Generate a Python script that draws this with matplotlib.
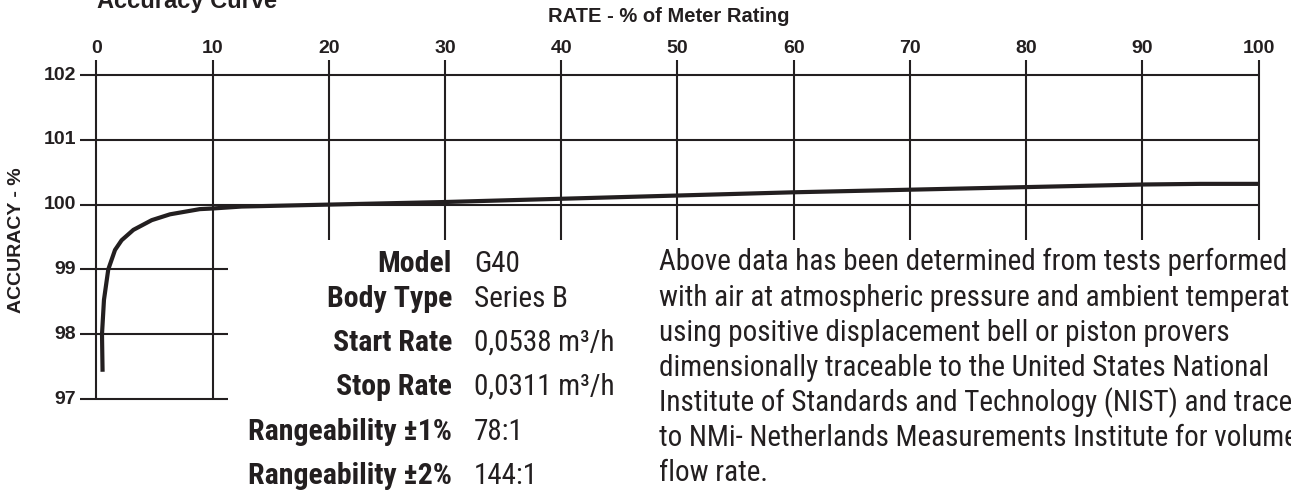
"""
Courbe de precision d'un compteur G40 (Series B)
"""
import matplotlib
matplotlib.use("Agg")
import matplotlib.pyplot as plt
from matplotlib import font_manager

# Donnees
rate = [0.54, 0.49, 0.66, 1.03, 1.61, 2.18, 3.19, 4.77, 6.34, 8.9, 10, 12.5,
        20, 30, 40, 50, 60, 70, 80, 90, 95, 100]
accuracy = [97.42, 98.0, 98.53, 99.0, 99.3, 99.45, 99.61, 99.76, 99.85, 99.93, 99.94, 99.97,
            100.0, 100.04, 100.09, 100.14, 100.19, 100.23, 100.27, 100.31, 100.32, 100.32]

x_ticks = [0, 10, 20, 30, 40, 50, 60, 70, 80, 90, 100]
y_ticks = [97, 98, 99, 100, 101, 102]

spec_labels = ["Model", "Body Type", "Start Rate", "Stop Rate",
               "Rangeability \u00b11%", "Rangeability \u00b12%"]
spec_values = ["G40", "Series B", "0,0538 m\u00b3/h", "0,0311 m\u00b3/h", "78:1", "144:1"]

note_lines = [
    "Above data has been determined from tests performed",
    "with air at atmospheric pressure and ambient temperature",
    "using positive displacement bell or piston provers",
    "dimensionally traceable to the United States National",
    "Institute of Standards and Technology (NIST) and traceable",
    "to NMi- Netherlands Measurements Institute for volumetric",
    "flow rate.",
]

# Polices
names = {f.name for f in font_manager.fontManager.ttflist}
narrow = next((n for n in ["Liberation Sans Narrow", "Roboto Condensed",
                           "Open Sans Condensed", "Arial Narrow"] if n in names), "Roboto")
wide = "Liberation Sans" if "Liberation Sans" in names else "DejaVu Sans"

INK = "#231f20"
W, H = 1291, 494

fig = plt.figure(figsize=(W / 100, H / 100), dpi=100)
# axe cale sur les pixels de la reference : 0 -> 96 px, 100 -> 1259 px ; 102 -> 75 px, 97 -> 399 px
ax = fig.add_axes([96.3 / W, (H - 399) / H, 1162.3 / W, 324 / H])
ax.set_xlim(0, 100)
ax.set_ylim(97, 102)
ax.axis("off")

lw = 1.5
y_top = 102.23   # haut des traits verticaux
x_left = -1.4    # debut des traits horizontaux
for y in y_ticks:
    x_end = 100 if y >= 100 else 11.3
    ax.hlines(y, x_left, x_end, color=INK, lw=lw, clip_on=False)
    ax.text(-1.75, y, str(y), ha="right", va="center", fontsize=14,
            fontweight="bold", family=wide, color=INK)
for x in x_ticks:
    y_bot = 97 if x <= 10 else 99.45
    ax.vlines(x, y_bot, y_top, color=INK, lw=lw, clip_on=False)
    ax.text(x, 102.34, str(x), ha="center", va="baseline", fontsize=14,
            fontweight="bold", family=wide, color=INK)

ax.plot(rate, accuracy, color=INK, lw=3.0, solid_capstyle="butt",
        solid_joinstyle="round", clip_on=False)

# Titres
fig.text(97 / W, 1 - 8 / H, "Accuracy Curve", ha="left", va="baseline",
         fontsize=17, fontweight="bold", family=wide, color=INK)
fig.text(669 / W, 1 - 17 / H, "RATE - % of Meter Rating", ha="center", va="center",
         fontsize=14.5, fontweight="bold", family=wide, color=INK)
fig.text(17 / W, 1 - 240 / H, "ACCURACY - %", ha="center", va="center", rotation=90,
         fontsize=14, fontweight="bold", family=wide, color=INK)

# Caracteristiques
spec_base = [272.3, 306.7, 351, 395, 440, 484]
for lab, val, yb in zip(spec_labels, spec_values, spec_base):
    fig.text(452 / W, 1 - yb / H, lab, ha="right", va="baseline", fontsize=21.5,
             fontweight="bold", family=narrow, color=INK)
    fig.text(474 / W, 1 - yb / H, val, ha="left", va="baseline", fontsize=21,
             family=narrow, color=INK)

# Note
for i, line in enumerate(note_lines):
    yb = 270.5 + i * 35.1
    fig.text(659 / W, 1 - yb / H, line, ha="left", va="baseline", fontsize=21,
             family=narrow, color=INK)

fig.savefig("out.png", dpi=100)
